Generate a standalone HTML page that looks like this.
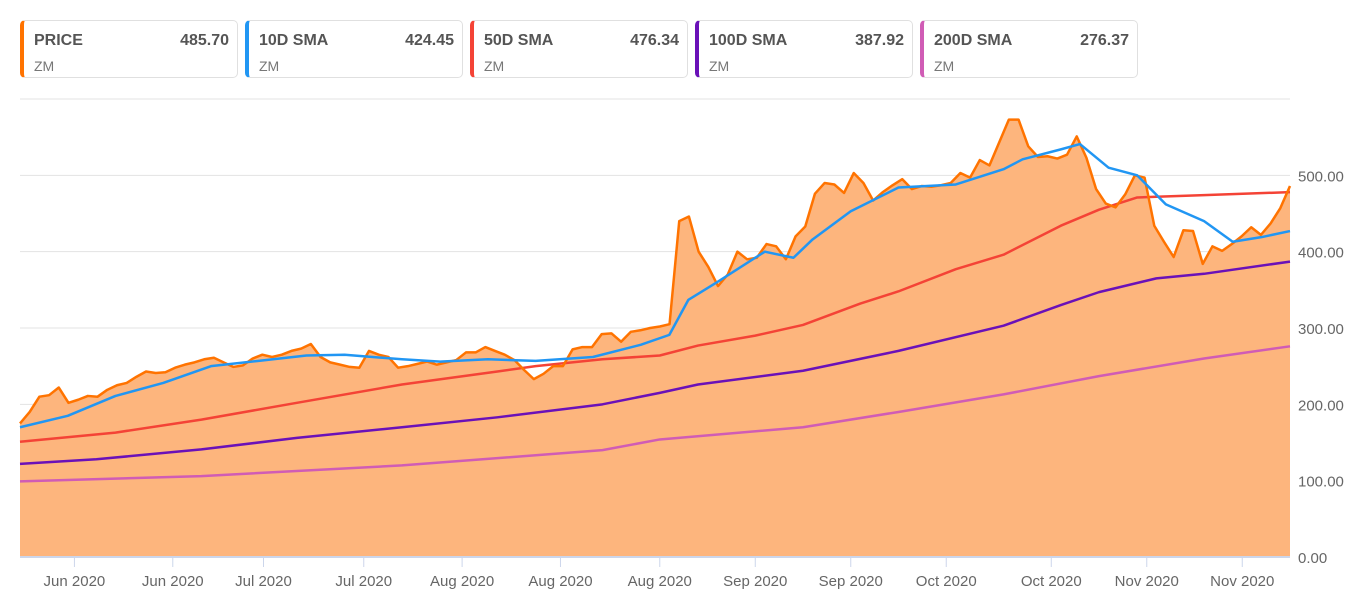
<!DOCTYPE html>
<html><head><meta charset="utf-8"><style>
body{margin:0;width:1368px;height:614px;background:#fff;font-family:"Liberation Sans",sans-serif;overflow:hidden;position:relative}
.lg{position:absolute;top:20px;width:218px;height:58px;border:1px solid #e0e0e0;border-radius:5px;box-sizing:border-box;border-left:4px solid}
.lg .t{position:absolute;left:10px;top:11px;font-weight:bold;font-size:16px;color:#555}
.lg .v{position:absolute;right:8px;top:11px;font-weight:bold;font-size:16px;color:#555}
.lg .s{position:absolute;left:10px;top:37px;font-size:14px;color:#777}
</style></head><body>
<div class="lg" style="left:20px;border-left-color:#ff7300"><span class="t">PRICE</span><span class="v">485.70</span><span class="s">ZM</span></div>
<div class="lg" style="left:245px;border-left-color:#2196f3"><span class="t">10D SMA</span><span class="v">424.45</span><span class="s">ZM</span></div>
<div class="lg" style="left:470px;border-left-color:#f44336"><span class="t">50D SMA</span><span class="v">476.34</span><span class="s">ZM</span></div>
<div class="lg" style="left:695px;border-left-color:#6a11b8"><span class="t">100D SMA</span><span class="v">387.92</span><span class="s">ZM</span></div>
<div class="lg" style="left:920px;border-left-color:#d05cb5"><span class="t">200D SMA</span><span class="v">276.37</span><span class="s">ZM</span></div>
<svg id="c" width="1368" height="614" style="position:absolute;left:0;top:0"></svg>
<script>
const price=[175,190,210,212,222,202,206,211,210,219,225,228,236,243,241,242,248,252,255,259,261,255,249,251,260,265,262,265,270,273,279,262,255,252,249,248,270,265,262,248,250,253,256,252,255,258,268,268,275,270,265,258,245,233,240,250,250,272,275,275,292,293,282,295,297,300,302,305,440,446,400,380,355,370,400,390,392,410,407,390,420,433,476,490,488,477,503,490,467,478,487,495,482,486,485,487,490,503,497,520,513,543,573,573,538,524,525,522,527,551,523,482,463,458,475,500,497,434,413,393,428,427,384,407,401,410,420,432,422,437,457,486];
const sma10Days=[0,5,10,15,20,25,30,34,40,44,49,54,60,65,68,70,73,78,81,83,87,92,98,103,105,109,111,114,117,120,124,127,130,133];
const sma10=[170,185,211,228,250,257,264,265,259,256,259,257,262,278,291,337,360,400,392,416,453,484,488,508,521,534,541,510,500,462,440,413,419,427];
const sma50Days=[0,10,19,29,40,50,54,61,67,71,77,82,88,92,98,103,109,113,117,119,124,133];
const sma50=[151,163,180,202,226,243,250,259,264,277,290,304,332,348,377,396,434,455,471,472,474,478];
const sma100Days=[0,8,19,29,40,50,61,67,71,82,92,103,109,113,119,124,133];
const sma100=[122,128,141,156,170,183,200,215,226,244,270,303,330,347,365,371,387];
const sma200Days=[0,19,40,61,67,82,92,103,113,124,133];
const sma200=[99,106,120,140,154,170,190,213,237,260,276];
const yTicks=[0,100,200,300,400,500,600];
const xTickDays=[5.7,16,25.5,36,46.3,56.6,67,77,87,97,108,118,128];
const xTickLabels=["Jun 2020","Jun 2020","Jul 2020","Jul 2020","Aug 2020","Aug 2020","Aug 2020","Sep 2020","Sep 2020","Oct 2020","Oct 2020","Nov 2020","Nov 2020"];
const L=20,R=1290,B=557,T=99,NS="http://www.w3.org/2000/svg";
const totalDays=133;
const priceDays=price.map((v,i)=>i*totalDays/(price.length-1));
const X=d=>L+d*(R-L)/totalDays;
const Y=v=>B-(v/600)*(B-T);
const svg=document.getElementById('c');
function mk(t,a){const e=document.createElementNS(NS,t);for(const k in a)e.setAttribute(k,a[k]);svg.appendChild(e);return e;}
yTicks.forEach(v=>{
 const g=mk('line',{x1:L,x2:R,y1:Y(v),y2:Y(v),stroke:'#e3e3e3','stroke-width':1});
 
 
 if(v<600){const t=mk('text',{x:1298,y:Y(v)+6,'font-size':15,fill:'#666'});t.textContent=v.toFixed(2);
 
 }
});
let pts=price.map((v,i)=>X(priceDays[i])+','+Y(v)).join(' ');
const area=mk('polygon',{points:X(0)+','+B+' '+pts+' '+X(totalDays)+','+B,fill:'#fdb57d'});


function line(days,vals,col,name){
 const p=mk('polyline',{points:vals.map((v,i)=>X(days[i])+','+Y(v)).join(' '),fill:'none',stroke:col,'stroke-width':2.5,'stroke-linejoin':'round'});
 
 
}
line(sma200Days,sma200,'#d05cb5','sma200-line');
line(sma100Days,sma100,'#6a11b8','sma100-line');
line(sma50Days,sma50,'#f44336','sma50-line');
line(priceDays,price,'#ff7300','price-line');
line(sma10Days,sma10,'#2196f3','sma10-line');
const ax=mk('line',{x1:L,x2:R,y1:B,y2:B,stroke:'#ccd6eb','stroke-width':2});


xTickDays.forEach((d,i)=>{
 const tk=mk('line',{x1:X(d),x2:X(d),y1:B,y2:B+10,stroke:'#ccd6eb'});
 
 
 const t=mk('text',{x:X(d),y:586,'font-size':15,fill:'#666','text-anchor':'middle'});
 t.textContent=xTickLabels[i];
 
 
});
</script>
</body></html>
